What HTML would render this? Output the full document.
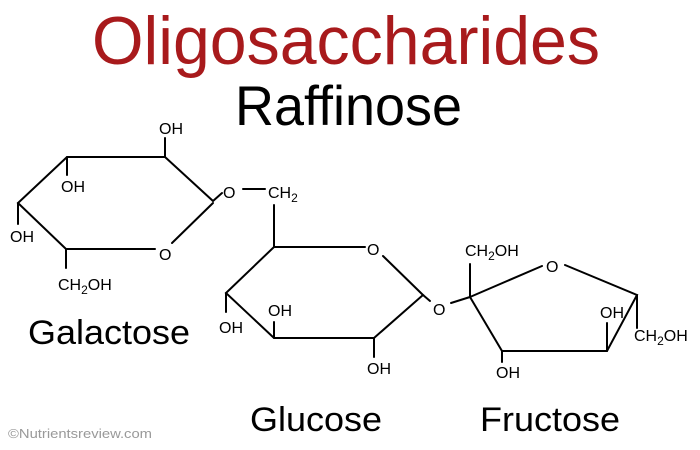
<!DOCTYPE html>
<html><head><meta charset="utf-8"><style>
html,body{margin:0;padding:0;background:#fff;width:700px;height:450px;overflow:hidden}
svg{display:block}
text{font-family:"Liberation Sans",sans-serif}
.s{font-size:16px;fill:#000}
.b{font-size:34px;fill:#000}
</style></head><body>
<svg width="700" height="450" viewBox="0 0 700 450" xmlns="http://www.w3.org/2000/svg">
<text x="92" y="64" font-size="68" fill="#a81a1c" textLength="508" lengthAdjust="spacingAndGlyphs">Oligosaccharides</text>
<text x="235" y="125" font-size="56" fill="#000" textLength="227" lengthAdjust="spacingAndGlyphs">Raffinose</text>
<text class="b" x="28" y="344" textLength="162" lengthAdjust="spacingAndGlyphs">Galactose</text>
<text class="b" x="250" y="431" textLength="132" lengthAdjust="spacingAndGlyphs">Glucose</text>
<text class="b" x="480" y="431" textLength="140" lengthAdjust="spacingAndGlyphs">Fructose</text>
<text x="8" y="438" font-size="13" fill="#999" textLength="144" lengthAdjust="spacingAndGlyphs">©Nutrientsreview.com</text>
<g stroke="#000" stroke-width="2" fill="none" stroke-linecap="round">
<polyline points="222,193 213,201 165,157 67,157 18,203 66,249 155,249"/>
<line x1="172" y1="243" x2="213" y2="203"/>
<line x1="165" y1="157" x2="165" y2="138"/>
<line x1="67" y1="157" x2="67" y2="175"/>
<line x1="18" y1="203" x2="18" y2="224"/>
<line x1="66" y1="249" x2="66" y2="268"/>
<line x1="243" y1="189" x2="265" y2="189"/>
<line x1="274" y1="205" x2="274" y2="247"/>
<polyline points="365,247 274,247 226,293 274,338 374,338 423,295 383,256"/>
<line x1="423" y1="295" x2="430" y2="301"/>
<line x1="226" y1="293" x2="226" y2="312"/>
<line x1="274" y1="338" x2="274" y2="322"/>
<line x1="374" y1="338" x2="374" y2="357"/>
<line x1="451" y1="303" x2="470" y2="297"/>
<line x1="470" y1="297" x2="470" y2="264"/>
<line x1="470" y1="297" x2="542" y2="266"/>
<polyline points="565,265 637,295 607,351 502,351 470,297"/>
<line x1="502" y1="351" x2="502" y2="362"/>
<line x1="607" y1="351" x2="607" y2="323"/>
<line x1="637" y1="295" x2="637" y2="328"/>
</g>
<g class="s">
<text x="159" y="134" class="s">OH</text>
<text x="61" y="192" class="s">OH</text>
<text x="10" y="242" class="s">OH</text>
<text x="58" y="290" class="s">CH<tspan font-size="12" dy="4">2</tspan><tspan dy="-4">OH</tspan></text>
<text x="159" y="260" class="s">O</text>
<text x="223" y="198" class="s">O</text>
<text x="268" y="198" class="s">CH<tspan font-size="12" dy="4">2</tspan></text>
<text x="367" y="255" class="s">O</text>
<text x="219" y="333" class="s">OH</text>
<text x="268" y="316" class="s">OH</text>
<text x="367" y="374" class="s">OH</text>
<text x="433" y="315" class="s">O</text>
<text x="465" y="256" class="s">CH<tspan font-size="12" dy="4">2</tspan><tspan dy="-4">OH</tspan></text>
<text x="546" y="272" class="s">O</text>
<text x="496" y="378" class="s">OH</text>
<text x="600" y="318" class="s">OH</text>
<text x="634" y="341" class="s">CH<tspan font-size="12" dy="4">2</tspan><tspan dy="-4">OH</tspan></text>
</g>
</svg>
</body></html>
